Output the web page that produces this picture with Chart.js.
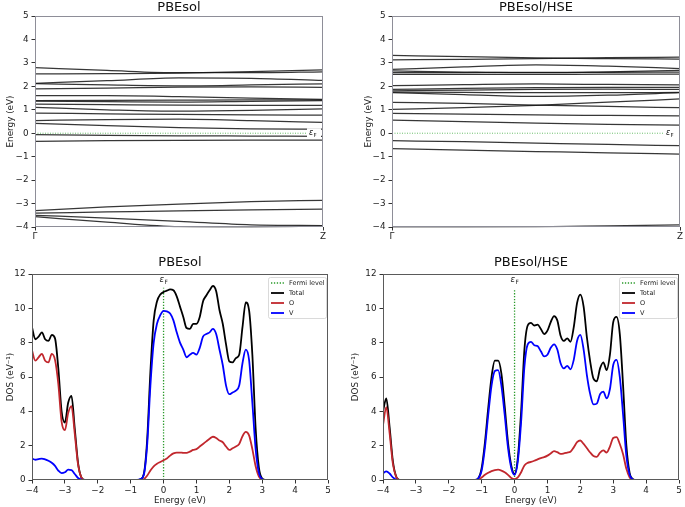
<!DOCTYPE html>
<html><head><meta charset="utf-8">
<script src="https://cdn.jsdelivr.net/npm/chart.js@4"></script>
<style>
html,body{margin:0;padding:0;background:#fff;}
#wrap{position:relative;width:685px;height:507px;overflow:hidden;}
canvas{position:absolute;}
</style></head><body>
<div id="wrap">
<canvas id="c1" width="342" height="250" style="left:0;top:0"></canvas>
<canvas id="c2" width="342" height="250" style="left:343px;top:0"></canvas>
<canvas id="c3" width="342" height="257" style="left:0;top:250px"></canvas>
<canvas id="c4" width="342" height="257" style="left:343px;top:250px"></canvas>
</div>
<script>
// ---------- DATA ----------
const bandKpts = [0, 0.25, 0.5, 0.75, 1];
const bandKLabels = ['Γ', 'Z'];
const bandYTicks = [-4, -3, -2, -1, 0, 1, 2, 3, 4, 5];

const pbeBands = [
  [2.80, 2.68, 2.58, 2.58, 2.62],
  [2.53, 2.54, 2.56, 2.63, 2.70],
  [2.13, 2.24, 2.36, 2.34, 2.25],
  [2.12, 2.06, 2.02, 2.06, 2.11],
  [1.89, 1.92, 1.97, 1.98, 1.96],
  [1.60, 1.60, 1.56, 1.50, 1.44],
  [1.39, 1.40, 1.41, 1.42, 1.42],
  [1.37, 1.35, 1.33, 1.36, 1.39],
  [1.24, 1.22, 1.20, 1.19, 1.19],
  [1.10, 1.00, 0.94, 0.97, 1.04],
  [0.86, 0.83, 0.80, 0.78, 0.77],
  [0.54, 0.58, 0.60, 0.54, 0.46],
  [0.42, 0.32, 0.24, 0.19, 0.17],
  [-0.06, -0.09, -0.11, -0.12, -0.13],
  [-0.35, -0.32, -0.30, -0.29, -0.29],
  [-3.30, -3.14, -3.02, -2.92, -2.86],
  [-3.41, -3.36, -3.31, -3.27, -3.24],
  [-3.50, -3.62, -3.76, -3.91, -3.94],
  [-3.56, -3.79, -3.98, -4.00, -3.96]
];
const hseBands = [
  [3.32, 3.27, 3.21, 3.18, 3.16],
  [3.13, 3.15, 3.18, 3.22, 3.25],
  [2.72, 2.83, 2.92, 2.86, 2.76],
  [2.66, 2.61, 2.58, 2.62, 2.68],
  [2.59, 2.59, 2.60, 2.60, 2.61],
  [2.51, 2.51, 2.51, 2.52, 2.52],
  [2.03, 2.07, 2.10, 2.08, 2.06],
  [1.87, 1.91, 1.94, 1.96, 1.96],
  [1.81, 1.84, 1.87, 1.88, 1.87],
  [1.75, 1.74, 1.73, 1.73, 1.74],
  [1.73, 1.65, 1.57, 1.62, 1.73],
  [1.32, 1.27, 1.20, 1.14, 1.09],
  [1.02, 1.09, 1.19, 1.33, 1.46],
  [0.85, 0.81, 0.78, 0.76, 0.74],
  [0.56, 0.49, 0.43, 0.38, 0.35],
  [-0.32, -0.36, -0.42, -0.48, -0.53],
  [-0.66, -0.72, -0.78, -0.84, -0.89],
  [-4.00, -4.00, -3.99, -3.95, -3.91]
];

// DOS, PBEsol
const pbeDosE = [-4.0,-3.9,-3.8,-3.7,-3.6,-3.5,-3.4,-3.3,-3.2,-3.1,-3.0,-2.9,-2.8,-2.7,-2.6,-2.5,-2.4,
  -0.8,-0.7,-0.6,-0.5,-0.4,-0.3,-0.2,-0.1,0.0,0.1,0.2,0.3,0.4,0.5,0.6,0.7,0.8,0.9,1.0,1.1,1.2,1.3,1.4,1.5,
  1.6,1.7,1.8,1.9,2.0,2.1,2.2,2.3,2.4,2.5,2.6,2.7,2.8,2.9,3.0,3.1,5.0];
const pbeTotal = [8.9,8.2,8.35,8.6,8.2,8.1,8.45,8.25,6.5,4.0,3.35,4.5,4.9,3.0,1.0,0.15,0,
  0,0.05,0.35,2.3,6.3,9.3,10.4,10.8,10.95,11.03,11.1,11.05,10.7,10.1,9.5,8.85,8.8,9.1,9.1,9.5,10.4,10.75,11.05,11.3,
  11.0,9.9,9.1,7.9,6.9,6.85,7.1,7.3,8.9,10.35,9.9,7.3,3.0,0.7,0.08,0,0];
const pbeO = [7.55,6.95,7.15,7.35,6.95,6.85,7.35,7.0,5.6,3.4,2.9,3.9,4.3,2.7,0.9,0.15,0,
  0,0,0.05,0.25,0.55,0.8,0.95,1.05,1.15,1.25,1.42,1.55,1.6,1.6,1.58,1.58,1.65,1.75,1.8,1.95,2.1,2.25,2.4,2.52,
  2.45,2.3,2.2,1.95,1.75,1.85,1.95,2.1,2.55,2.8,2.6,1.8,0.8,0.2,0.02,0,0];
const pbeV = [1.25,1.18,1.22,1.25,1.2,1.12,1.0,0.82,0.55,0.4,0.45,0.6,0.58,0.35,0.12,0.03,0,
  0,0.05,0.3,2.0,5.5,8.0,9.1,9.6,9.85,9.82,9.7,9.3,8.6,8.0,7.6,7.15,7.3,7.4,7.3,7.7,8.35,8.5,8.6,8.8,
  8.5,7.6,6.7,5.5,5.0,5.1,5.2,5.5,6.8,7.6,7.0,4.5,1.8,0.4,0.05,0,0];
const pbeFermiTop = 11.2;

// DOS, PBEsol/HSE
const hseDosE = [-4.0,-3.9,-3.8,-3.7,-3.6,-3.5,
  -1.2,-1.1,-1.0,-0.9,-0.8,-0.7,-0.6,-0.5,-0.4,-0.3,-0.2,-0.1,0.0,0.1,0.2,0.3,0.4,0.5,0.6,0.7,0.8,0.9,1.0,
  1.1,1.2,1.3,1.4,1.5,1.6,1.7,1.8,1.9,2.0,2.1,2.2,2.3,2.4,2.5,2.6,2.7,2.8,2.9,3.0,3.1,3.2,3.3,3.4,3.5,3.6,3.7,5.0];
const hseTotal = [4.0,4.75,3.1,1.1,0.2,0,
  0,0.1,0.7,2.2,4.2,6.0,6.95,6.95,6.2,4.3,2.2,0.85,0.35,1.3,4.0,7.6,9.0,9.15,9.0,9.05,8.8,8.5,8.7,
  9.2,9.55,9.3,8.4,8.1,8.25,8.05,8.9,10.3,10.8,10.1,8.3,6.9,5.9,5.75,6.5,6.85,6.4,7.3,9.2,9.5,8.5,5.5,2.0,0.4,0.05,0,0];
const hseO = [3.2,4.25,2.75,0.95,0.18,0,
  0,0.02,0.15,0.3,0.42,0.52,0.58,0.6,0.55,0.45,0.3,0.12,0.05,0.15,0.45,0.85,1.0,1.05,1.12,1.2,1.28,1.33,1.42,
  1.55,1.68,1.62,1.52,1.55,1.6,1.65,1.9,2.2,2.3,2.1,1.85,1.6,1.4,1.35,1.6,1.72,1.6,1.95,2.45,2.5,2.1,1.5,0.65,0.15,0.02,0,0];
const hseV = [0.4,0.5,0.38,0.15,0.02,0,
  0,0.1,0.55,1.9,3.8,5.5,6.35,6.4,5.5,3.8,1.9,0.7,0.3,1.1,3.4,6.6,7.9,8.05,7.85,7.8,7.5,7.2,7.3,
  7.7,7.9,7.6,6.8,6.5,6.65,6.45,7.0,8.1,8.45,7.6,6.1,5.0,4.4,4.45,5.0,5.15,4.75,5.3,6.7,7.0,6.0,3.8,1.4,0.3,0.03,0,0];
const hseFermiTop = 11.1;

const dosLabels = ['Fermi level', 'Total', 'O', 'V'];

// ---------- STYLE / HELPERS ----------
Chart.defaults.font.family = '"DejaVu Sans", sans-serif';
Chart.defaults.font.size = 8.8;
Chart.defaults.color = '#222';
Chart.defaults.animation = false;

const minus = v => String(v).replace('-', '\u2212');

function drawEF(ctx, x, y, size) {
  ctx.save();
  ctx.fillStyle = '#222';
  ctx.textBaseline = 'middle';
  ctx.textAlign = 'left';
  ctx.font = 'italic ' + size + 'px "DejaVu Sans"';
  ctx.fillText('ε', x, y);
  const w = ctx.measureText('ε').width;
  ctx.font = (size * 0.68).toFixed(1) + 'px "DejaVu Sans"';
  ctx.fillText('F', x + w + 0.3, y + size * 0.28);
  ctx.restore();
}

const extras = {
  id: 'extras',
  afterDatasetsDraw(chart, args, o) {
    const {ctx, chartArea: a} = chart;
    ctx.save();
    ctx.fillStyle = '#111';
    ctx.font = '13px "DejaVu Sans"';
    ctx.textAlign = 'center';
    ctx.textBaseline = 'middle';
    ctx.fillText(o.title, (a.left + a.right) / 2, o.titleY);
    if (o.kind === 'band') {
      const y0 = chart.scales.y.getPixelForValue(0);
      ctx.fillStyle = '#fff';
      ctx.fillRect(a.right - 16, y0 - 5, 14, 10);
      drawEF(ctx, a.right - 14, y0, 8);
    } else {
      const xf = chart.scales.x.getPixelForValue(0);
      const yf = chart.scales.y.getPixelForValue(11.65);
      drawEF(ctx, xf - 4, yf, 8.5);
      const bx = a.right - 60, by = a.top + 3, bw = 58, bh = 41;
      ctx.fillStyle = 'rgba(255,255,255,0.85)';
      ctx.strokeStyle = '#d0d0d0';
      ctx.lineWidth = 0.8;
      ctx.beginPath();
      if (ctx.roundRect) ctx.roundRect(bx + 0.5, by + 0.5, bw, bh, 2); else ctx.rect(bx + 0.5, by + 0.5, bw, bh);
      ctx.fill(); ctx.stroke();
      ctx.font = '6.5px "DejaVu Sans"';
      ctx.textAlign = 'left';
      chart.data.datasets.forEach((ds, i) => {
        const yy = by + 6 + i * 10;
        ctx.save();
        ctx.strokeStyle = ds.borderColor;
        ctx.lineWidth = ds.borderWidth;
        ctx.setLineDash(ds.borderDash || []);
        ctx.beginPath(); ctx.moveTo(bx + 3, yy); ctx.lineTo(bx + 16, yy); ctx.stroke();
        ctx.restore();
        ctx.fillStyle = '#222';
        ctx.fillText(ds.label, bx + 21, yy);
      });
    }
    ctx.strokeStyle = o.frame;
    ctx.lineWidth = 1;
    ctx.strokeRect(Math.round(a.left) + 0.5, Math.round(a.top) + 0.5,
      Math.round(a.right - a.left) - 1, Math.round(a.bottom - a.top) - 1);
    ctx.restore();
  }
};

function axisCommon(frame) {
  return {
    border: {display: false},
    grid: {display: true, drawOnChartArea: false, drawTicks: true, tickLength: 3.5, color: frame, tickColor: '#333'},
  };
}

function makeChart(id, cfg) {
  const el = document.getElementById(id);
  const W = el.width, H = el.height;
  const {L, R, T, B, pl} = cfg.box;
  return new Chart(el, {
    type: 'line',
    data: {datasets: cfg.datasets},
    options: {
      responsive: false,
      animation: false,
      layout: {padding: {left: pl, right: W - R, top: T, bottom: 0}},
      plugins: {legend: {display: false}, tooltip: {enabled: false},
        extras: {title: cfg.title, titleY: cfg.titleY, kind: cfg.kind, frame: cfg.frame}},
      elements: {point: {radius: 0}},
      scales: {
        x: Object.assign(axisCommon(cfg.frame), cfg.x, {
          type: 'linear',
          afterFit: s => { s.height = H - B; }
        }),
        y: Object.assign(axisCommon(cfg.frame), cfg.y, {
          type: 'linear',
          afterFit: s => { s.width = L - pl; }
        })
      }
    },
    plugins: [extras]
  });
}

function bandDatasets(bands) {
  const ds = bands.map(b => ({
    data: bandKpts.map((k, i) => ({x: k, y: b[i]})),
    borderColor: 'rgba(20,20,20,0.85)', borderWidth: 1.25,
    cubicInterpolationMode: 'monotone', pointRadius: 0, clip: 0.5, order: 1
  }));
  ds.push({
    data: [{x: 0, y: 0}, {x: 1, y: 0}],
    borderColor: 'rgba(70,175,70,0.8)', borderWidth: 1, borderDash: [1, 1.5],
    pointRadius: 0, order: 2
  });
  return ds;
}

function bandCfg(title, bands, box) {
  return {
    kind: 'band', title, titleY: 8, frame: '#8e8e98', box,
    datasets: bandDatasets(bands),
    x: {min: 0, max: 1,
        afterBuildTicks: s => { s.ticks = [{value: 0}, {value: 1}]; },
        ticks: {padding: 1, maxRotation: 0, autoSkip: false, callback: (v, i) => bandKLabels[i]}},
    y: {min: -4, max: 5,
        afterBuildTicks: s => { s.ticks = bandYTicks.map(v => ({value: v})); },
        ticks: {padding: 3, callback: v => minus(v)},
        title: {display: true, text: 'Energy (eV)', padding: {top: 0, bottom: 0}, font: {size: 8.8}}}
  };
}

function dosDatasets(E, tot, o, v, fermiTop) {
  const pts = arr => E.map((e, i) => ({x: e, y: arr[i]}));
  return [
    {label: dosLabels[0], data: [{x: 0, y: 0}, {x: 0, y: fermiTop}], borderColor: '#2a9a2a',
      borderWidth: 1.3, borderDash: [1.3, 1.6], order: 4},
    {label: dosLabels[1], data: pts(tot), borderColor: '#000000', borderWidth: 1.8,
      cubicInterpolationMode: 'monotone', order: 3},
    {label: dosLabels[2], data: pts(o), borderColor: '#c1272d', borderWidth: 1.8,
      cubicInterpolationMode: 'monotone', order: 2},
    {label: dosLabels[3], data: pts(v), borderColor: '#0000ff', borderWidth: 1.8,
      cubicInterpolationMode: 'monotone', order: 1}
  ];
}

function dosCfg(title, ds, box) {
  return {
    kind: 'dos', title, titleY: 13, frame: '#5a5a5a', box, datasets: ds,
    x: {min: -4, max: 5, ticks: {stepSize: 1, padding: 2, maxRotation: 0, autoSkip: false, callback: v => minus(v)},
        title: {display: true, text: 'Energy (eV)', padding: {top: 0, bottom: 1}, font: {size: 8.8}}},
    y: {min: 0, max: 12, ticks: {stepSize: 2, padding: 3, callback: v => minus(v)},
        title: {display: true, text: 'DOS (eV\u207B\u00B9)', padding: {top: 0, bottom: 0}, font: {size: 8.8}}}
  };
}

makeChart('c1', bandCfg('PBEsol', pbeBands, {L: 35, R: 323, T: 16, B: 227, pl: 5}));
makeChart('c2', bandCfg('PBEsol/HSE', hseBands, {L: 49, R: 337, T: 16, B: 227, pl: 20}));
makeChart('c3', dosCfg('PBEsol', dosDatasets(pbeDosE, pbeTotal, pbeO, pbeV, pbeFermiTop), {L: 32, R: 328, T: 24, B: 230, pl: 5}));
makeChart('c4', dosCfg('PBEsol/HSE', dosDatasets(hseDosE, hseTotal, hseO, hseV, hseFermiTop), {L: 40, R: 336, T: 24, B: 230, pl: 7}));
</script>
</body></html>
